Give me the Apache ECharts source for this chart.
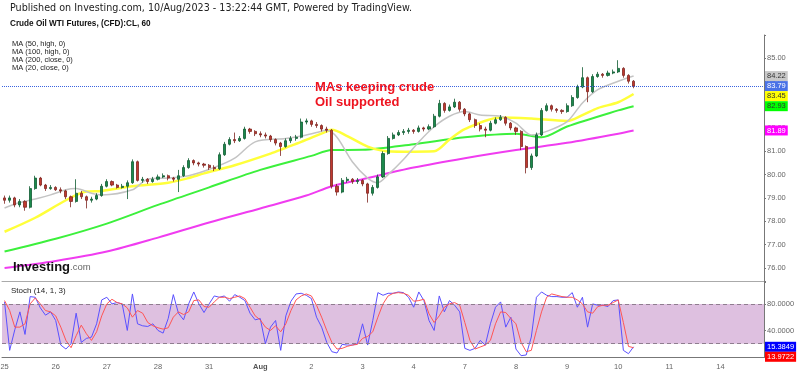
<!DOCTYPE html>
<html>
<head>
<meta charset="utf-8">
<script src="https://cdn.jsdelivr.net/npm/echarts@6/dist/echarts.min.js"></script>
<style>
html, body { margin: 0; padding: 0; background: #fff; }
#chart { width: 800px; height: 376px; }
</style>
</head>
<body>
<div id="chart"></div>
<script>
// x axis: one slot per ~2.4h bar, 10 per trading day, labels on day starts
const dayLabels = ['25', '26', '27', '28', '31', 'Aug', '2', '3', '4', '7', '8', '9', '10', '11', '14'];
const slotCount = 149;

// [open, close, low, high]
const candles = [
    [79.0, 78.9, 78.75, 79.1], [78.9, 79.0, 78.8, 79.1], [79.0, 78.7, 78.6, 79.05], [78.7, 78.85, 78.6, 78.95], [78.85, 78.6, 78.45, 78.9],
    [78.6, 79.4, 78.55, 79.5], [79.4, 79.85, 79.35, 79.95], [79.85, 79.55, 79.5, 79.9], [79.55, 79.4, 79.3, 79.6], [79.4, 79.45, 79.35, 79.55],
    [79.45, 79.35, 79.3, 79.5], [79.35, 79.3, 79.2, 79.45], [79.3, 79.05, 78.95, 79.35], [79.05, 78.85, 78.6, 79.1], [78.85, 79.2, 78.8, 79.8],
    [79.2, 79.05, 78.95, 79.3], [79.05, 78.9, 78.55, 79.1], [78.9, 78.95, 78.8, 79.05], [78.95, 79.1, 78.9, 79.2], [79.1, 79.5, 79.05, 79.6],
    [79.5, 79.7, 79.45, 79.8], [79.7, 79.55, 79.5, 79.75], [79.55, 79.45, 79.4, 79.6], [79.45, 79.5, 79.4, 79.6], [79.5, 79.65, 78.95, 79.75],
    [79.65, 80.55, 79.6, 80.65], [80.55, 79.75, 79.7, 80.6], [79.75, 79.8, 79.65, 79.9], [79.8, 79.7, 79.6, 79.85], [79.7, 79.8, 79.65, 79.9],
    [79.8, 79.9, 79.75, 80.0], [79.9, 79.95, 79.85, 80.05], [79.95, 79.85, 79.75, 80.0], [79.85, 79.8, 79.7, 79.9], [79.8, 79.95, 79.25, 80.2],
    [79.95, 80.3, 79.9, 80.4], [80.3, 80.6, 80.25, 80.7], [80.6, 80.5, 80.4, 80.65], [80.5, 80.45, 80.35, 80.55], [80.45, 80.4, 80.3, 80.5],
    [80.4, 80.3, 80.2, 80.45], [80.3, 80.25, 80.15, 80.4], [80.25, 80.85, 80.2, 80.95], [80.85, 81.3, 80.8, 81.4], [81.3, 81.5, 81.25, 81.6],
    [81.5, 81.45, 81.35, 81.8], [81.45, 81.55, 81.4, 81.65], [81.55, 81.95, 81.5, 82.05], [81.95, 81.85, 81.75, 82.0], [81.85, 81.75, 81.65, 81.9],
    [81.75, 81.7, 81.6, 81.85], [81.7, 81.65, 81.55, 81.8], [81.65, 81.5, 81.4, 81.7], [81.5, 81.35, 81.25, 81.55], [81.35, 81.2, 80.8, 81.4],
    [81.2, 81.45, 81.15, 81.55], [81.45, 81.55, 81.35, 81.65], [81.55, 81.6, 81.45, 81.7], [81.6, 82.25, 81.55, 82.4], [82.25, 82.3, 82.15, 82.4],
    [82.3, 82.15, 82.05, 82.35], [82.15, 82.1, 82.0, 82.25], [82.1, 81.95, 81.85, 82.15], [81.95, 81.9, 81.8, 82.05], [81.9, 79.5, 79.4, 81.95],
    [79.5, 79.25, 79.1, 79.6], [79.25, 79.75, 79.2, 79.85], [79.75, 79.8, 79.65, 79.9], [79.8, 79.7, 79.6, 79.85], [79.7, 79.75, 79.6, 79.85],
    [79.75, 79.6, 79.5, 79.8], [79.6, 79.2, 78.8, 79.65], [79.2, 79.45, 79.1, 79.55], [79.45, 79.9, 79.4, 80.0], [79.9, 80.9, 79.85, 81.0],
    [80.9, 81.55, 80.85, 81.65], [81.55, 81.7, 81.5, 81.8], [81.7, 81.8, 81.65, 81.9], [81.8, 81.85, 81.7, 81.95], [81.85, 81.9, 81.75, 82.0],
    [81.9, 81.85, 81.75, 81.95], [81.85, 82.0, 81.8, 82.1], [82.0, 81.95, 81.85, 82.05], [81.95, 82.05, 81.9, 82.15], [82.05, 82.5, 82.0, 82.6],
    [82.5, 83.05, 82.45, 83.2], [83.05, 82.75, 82.65, 83.1], [82.75, 82.9, 82.7, 83.0], [82.9, 83.1, 82.85, 83.25], [83.1, 82.8, 82.7, 83.15],
    [82.8, 82.6, 82.5, 82.85], [82.6, 82.35, 82.25, 82.65], [82.35, 82.1, 82.0, 82.4], [82.1, 81.95, 81.85, 82.2], [81.95, 81.9, 81.6, 82.05],
    [81.9, 82.2, 81.85, 82.3], [82.2, 82.35, 82.15, 82.45], [82.35, 82.45, 82.3, 82.55], [82.45, 82.2, 82.1, 82.5], [82.2, 82.0, 81.9, 82.25],
    [82.0, 81.85, 81.7, 82.05], [81.85, 81.2, 81.05, 81.9], [81.2, 80.3, 80.05, 81.25], [80.3, 80.8, 80.2, 80.9], [80.8, 81.7, 80.75, 81.8],
    [81.7, 82.75, 81.65, 82.85], [82.75, 82.95, 82.7, 83.05], [82.95, 82.8, 82.7, 83.0], [82.8, 82.75, 82.65, 82.85], [82.75, 82.7, 82.6, 82.8],
    [82.7, 82.95, 82.65, 83.05], [82.95, 83.3, 82.9, 83.4], [83.3, 83.75, 83.25, 83.85], [83.75, 84.15, 83.7, 84.6], [84.15, 83.55, 83.1, 84.2],
    [83.55, 84.2, 83.5, 84.3], [84.2, 84.3, 84.15, 84.4], [84.3, 84.25, 84.15, 84.35], [84.25, 84.35, 84.2, 84.45], [84.35, 84.4, 84.3, 84.5],
    [84.4, 84.55, 84.35, 84.9], [84.55, 84.25, 84.15, 84.6], [84.25, 84.0, 83.9, 84.3], [84.0, 83.79, 83.7, 84.05]
];

// moving averages: [bar index, value]
const ma20 = [[0, 78.57], [3, 78.8], [6, 78.95], [9, 79.13], [12, 79.35], [14, 79.4], [17, 79.2], [19, 79.13], [25, 79.35], [28, 79.8],
    [32, 79.85], [36, 79.95], [41, 80.3], [45, 80.7], [49, 81.4], [55, 81.55], [58, 81.65], [61, 81.8], [63, 81.9], [65, 81.6],
    [68, 80.55], [71, 79.85], [73, 79.65], [75, 80.0], [78, 80.65], [81, 81.4], [84, 82.05], [87, 82.5], [90, 82.7], [93, 82.55],
    [97, 82.5], [100, 82.2], [103, 81.7], [106, 81.85], [110, 82.27], [113, 83.07], [116, 83.64], [120, 84.0], [123, 84.22]];
const ma50 = [[0, 77.55], [6, 78.15], [12, 78.9], [16, 79.27], [19, 79.3], [25, 79.5], [32, 79.65], [36, 79.85], [39, 80.05], [45, 80.4],
    [52, 80.9], [55, 81.15], [58, 81.4], [63, 81.85], [64, 81.92], [67, 81.65], [71, 81.2], [74, 81.02], [78, 80.98], [84, 81.0],
    [87, 81.5], [90, 81.95], [97, 82.45], [103, 82.4], [110, 82.3], [113, 82.55], [116, 82.85], [120, 83.1], [123, 83.45]];
const ma100 = [[0, 76.7], [10, 77.25], [20, 77.9], [30, 78.7], [40, 79.45], [50, 80.2], [60, 80.8], [64, 81.05], [70, 81.06], [80, 81.3],
    [90, 81.6], [100, 81.75], [105, 81.6], [110, 82.06], [120, 82.75], [123, 82.93]];
const ma200 = [[0, 76.0], [10, 76.3], [20, 76.7], [30, 77.3], [40, 77.95], [50, 78.55], [59, 79.1], [64, 79.5], [70, 79.8], [80, 80.3],
    [90, 80.7], [100, 81.05], [110, 81.36], [120, 81.75], [123, 81.89]];

// Stoch (14, 1, 3)
const stochK = [83, 10, 41, 68, 34, 91, 90, 74, 63, 68, 55, 18, 12, 20, 66, 22, 28, 30, 50, 86,
    90, 80, 82, 80, 40, 95, 50, 47, 46, 50, 40, 36, 58, 94, 66, 56, 80, 98, 80, 67,
    80, 92, 90, 92, 84, 94, 90, 85, 66, 56, 58, 20, 45, 55, 10, 62, 84, 95, 96, 93,
    88, 60, 45, 22, 8, 6, 19, 18, 18, 20, 50, 18, 55, 97, 93, 96, 96, 98, 97, 90,
    75, 98, 85, 55, 40, 92, 68, 85, 78, 68, 13, 10, 13, 25, 18, 50, 75, 83, 45, 60,
    12, 2, 3, 30, 90, 98, 93, 91, 91, 90, 90, 97, 75, 90, 45, 80, 78, 78, 76, 85,
    86, 10, 5, 15.3849];
const stochD = [85, 70, 45, 45, 50, 80, 89, 80, 70, 68, 62, 45, 25, 14, 32, 48, 35, 25, 38, 62,
    80, 87, 82, 80, 74, 60, 70, 66, 52, 47, 44, 42, 44, 60, 68, 64, 68, 85, 86, 76,
    75, 83, 90, 90, 88, 90, 92, 88, 75, 62, 56, 45, 40, 47, 38, 50, 70, 86, 92, 95,
    92, 78, 60, 40, 22, 12, 13, 16, 18, 19, 28, 31, 38, 60, 80, 92, 96, 97, 96, 93,
    84, 85, 87, 65, 52, 62, 75, 80, 82, 78, 52, 25, 12, 15, 18, 25, 50, 68, 67, 58,
    50, 22, 8, 10, 40, 68, 90, 95, 93, 91, 90, 90, 86, 80, 68, 66, 76, 78, 78, 82,
    86, 52, 16, 13.9722];

const FONT = '"Liberation Sans", Arial, sans-serif';

const categories = [];
for (let i = 0; i < slotCount; i++) {
    categories.push(i % 10 === 0 && dayLabels[i / 10] ? dayLabels[i / 10] : '');
}
const lastClose = candles[candles.length - 1][1];
const lastOf = arr => arr[arr.length - 1][1];

const maLine = (name, data, color, width) => ({
    name: name,
    type: 'line',
    data: data,
    showSymbol: false,
    smooth: 0.3,
    lineStyle: {color: color, width: width},
    itemStyle: {color: color},
    z: 2,
    silent: true
});

const chart = echarts.init(document.getElementById('chart'));
chart.setOption({
    animation: false,
    backgroundColor: '#fff',
    grid: [
        {left: 2, right: 36, top: 35, bottom: 95, outerBoundsMode: 'none'},
        {left: 2, right: 36, top: 282, bottom: 19, outerBoundsMode: 'none'}
    ],
    xAxis: [
        {
            type: 'category', gridIndex: 0, data: categories,
            axisLine: {lineStyle: {color: '#aaa'}},
            axisTick: {show: false}, axisLabel: {show: false}
        },
        {
            type: 'category', gridIndex: 1, data: categories,
            axisLine: {lineStyle: {color: '#777'}},
            axisTick: {alignWithLabel: true, length: 3, lineStyle: {color: '#777'}, interval: (i, v) => v !== ''},
            axisLabel: {
                interval: (i, v) => v !== '',
                color: '#666', fontSize: 7.5, fontFamily: FONT, margin: 6,
                formatter: v => v === 'Aug' ? '{b|Aug}' : v,
                rich: {b: {fontWeight: 'bold', fontSize: 7.5, color: '#555', fontFamily: FONT}}
            }
        }
    ],
    yAxis: [
        {
            type: 'value', gridIndex: 0, position: 'right',
            min: 75.44, max: 85.98, splitNumber: 10,
            splitLine: {show: false},
            axisLine: {show: true, lineStyle: {color: '#777'}},
            axisTick: {show: true, length: 2, lineStyle: {color: '#777'}},
            axisLabel: {
                color: '#666', fontSize: 7.5, fontFamily: FONT, margin: 3,
                formatter: v => Math.abs(v - Math.round(v)) < 1e-6 ? v.toFixed(2) : ''
            }
        },
        {
            type: 'value', gridIndex: 1, position: 'right',
            min: 0, max: 113, interval: 40,
            splitLine: {show: false},
            axisLine: {show: true, lineStyle: {color: '#777'}},
            axisTick: {show: true, length: 2, lineStyle: {color: '#777'}},
            axisLabel: {
                color: '#666', fontSize: 7.5, fontFamily: FONT, margin: 3,
                formatter: v => (v === 40 || v === 80) ? v.toFixed(4) : ''
            }
        }
    ],
    series: [
        maLine('MA200', ma200, '#f03cf0', 2),
        maLine('MA100', ma100, '#3cf03c', 2),
        maLine('MA50', ma50, '#ffff3a', 2.5),
        maLine('MA20', ma20, '#c4c4c4', 1.5),
        {
            name: 'CL', type: 'candlestick',
            data: candles.map(c => [c[0], c[1], c[2], c[3]]),
            barWidth: 2.6,
            z: 3,
            itemStyle: {
                color: '#1c8a4c', color0: '#c0392f',
                borderColor: '#0f5a31', borderColor0: '#7e2420', borderWidth: 0.8
            },
            markLine: {
                silent: true, symbol: ['none', 'none'],
                label: {show: false},
                lineStyle: {color: '#3a63e0', type: 'dotted', width: 1},
                data: [{yAxis: lastClose}]
            }
        },
        {
            name: '%K', type: 'line', xAxisIndex: 1, yAxisIndex: 1,
            data: stochK, showSymbol: false,
            lineStyle: {color: '#5a50ff', width: 1},
            z: 3,
            markArea: {
                silent: true,
                itemStyle: {color: '#dec0e0'},
                data: [[{yAxis: 20}, {yAxis: 80}]]
            },
            markLine: {
                silent: true, symbol: ['none', 'none'],
                label: {show: false},
                lineStyle: {color: '#8f7d8f', type: [4, 3], width: 1},
                data: [{yAxis: 20}, {yAxis: 80}]
            }
        },
        {
            name: '%D', type: 'line', xAxisIndex: 1, yAxisIndex: 1,
            data: stochD, showSymbol: false,
            lineStyle: {color: '#ff5555', width: 1},
            z: 3
        }
    ]
});

// value tags on the right edge, placed through the axis scale
function tags(list, axisIndex, digits) {
    const items = list.map(t => Object.assign({}, t, {y: chart.convertToPixel({yAxisIndex: axisIndex}, t.v)}))
        .sort((a, b) => a.y - b.y);
    for (let i = 1; i < items.length; i++) {
        if (items[i].y < items[i - 1].y + 10) items[i].y = items[i - 1].y + 10;
    }
    return items.map(t => ({
        type: 'text', x: 765, y: t.y, z: 100,
        style: {
            text: t.v.toFixed(digits), fill: t.fg, backgroundColor: t.bg,
            padding: [1, 2, 1, 2], font: '7.5px ' + FONT, verticalAlign: 'middle'
        }
    }));
}

const priceTags = tags([
    {v: lastOf(ma20), bg: '#c8c8c8', fg: '#333'},
    {v: lastClose, bg: '#4a72e6', fg: '#fff'},
    {v: lastOf(ma50), bg: '#ffff00', fg: '#333'},
    {v: lastOf(ma100), bg: '#00ff00', fg: '#333'},
    {v: lastOf(ma200), bg: '#ff00ff', fg: '#fff'}
], 0, 2);
const stochTags = tags([
    {v: stochK[stochK.length - 1], bg: '#0000ff', fg: '#fff'},
    {v: stochD[stochD.length - 1], bg: '#ff0000', fg: '#fff'}
], 1, 4);

chart.setOption({
    graphic: [
        {type: 'text', left: 10, top: 3, style: {text: 'Published on Investing.com, 10/Aug/2023 - 13:22:44 GMT, Powered by TradingView.', font: '9.6px "DejaVu Sans", Verdana, sans-serif', fill: '#222'}},
        {type: 'text', left: 10, top: 20, style: {text: 'Crude Oil WTI Futures, (CFD):CL, 60', font: 'bold 8.2px ' + FONT, fill: '#111'}},
        {type: 'text', left: 12, top: 40, style: {text: 'MA (50, high, 0)\nMA (100, high, 0)\nMA (200, close, 0)\nMA (20, close, 0)', font: '7.5px ' + FONT, lineHeight: 8, fill: '#222'}},
        {type: 'text', left: 11, top: 287, style: {text: 'Stoch (14, 1, 3)', font: '8px ' + FONT, fill: '#222'}},
        {type: 'text', left: 315, top: 80, z: 50, style: {text: 'MAs keeping crude\nOil supported', font: 'bold 13px ' + FONT, lineHeight: 15, fill: '#ee1420'}},
        {
            type: 'text', left: 13, top: 261, z: 50,
            style: {
                text: '{a|Investing}{b|.com}',
                rich: {
                    a: {font: 'bold 13px ' + FONT, fill: '#111'},
                    b: {font: '9.5px ' + FONT, fill: '#666'}
                }
            }
        }
    ].concat(priceTags, stochTags)
});
</script>
</body>
</html>
